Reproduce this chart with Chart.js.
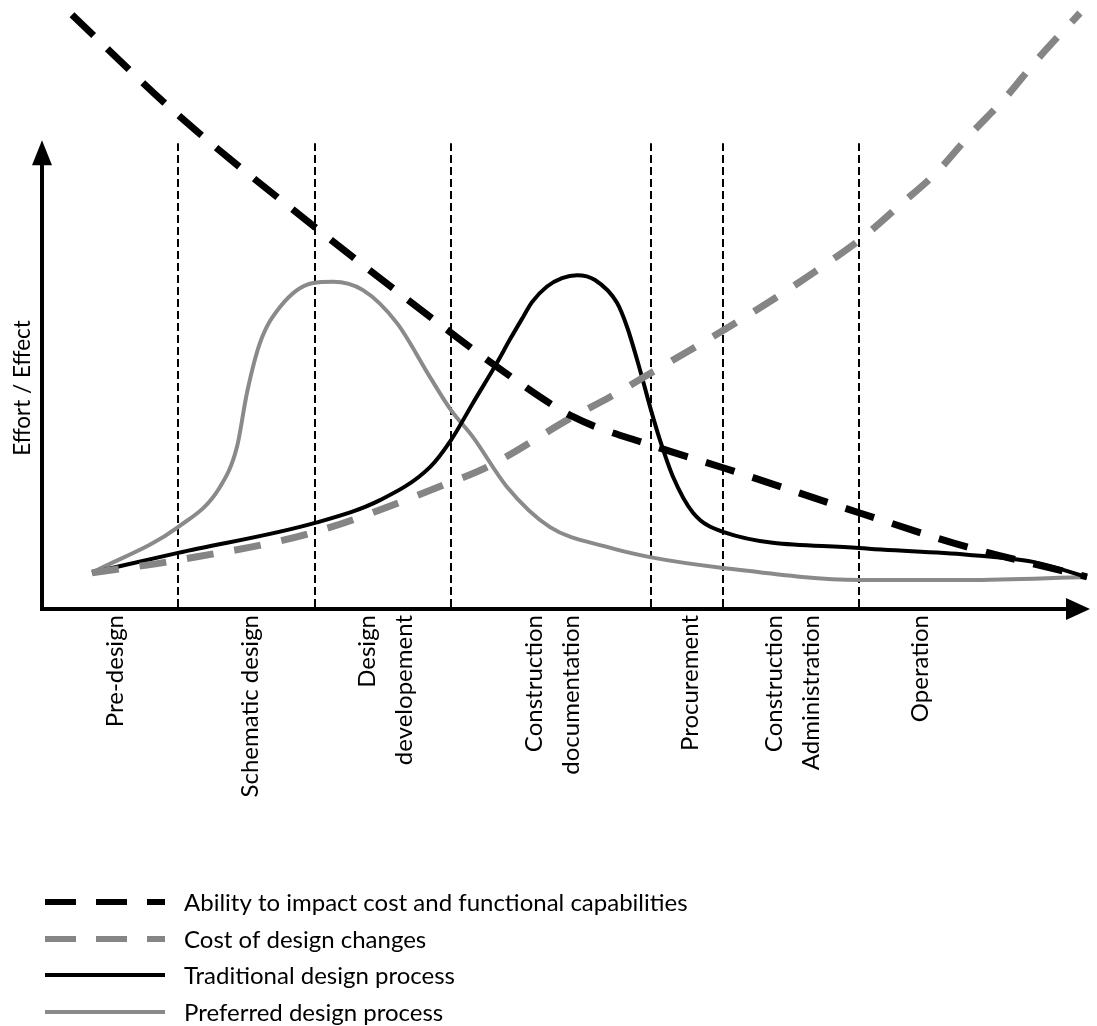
<!DOCTYPE html>
<html>
<head>
<meta charset="utf-8">
<script src="https://cdn.jsdelivr.net/npm/chart.js@4.4.0/dist/chart.umd.min.js"></script>
<style>
html,body{margin:0;padding:0;background:#fff;}
#wrap{width:1097px;height:1026px;position:relative;}
</style>
</head>
<body>
<div id="wrap"><canvas id="c"></canvas></div>
<script>
// ---- Data (x = project time, y = effort / effect, arbitrary units) ----
const phaseBoundaries = [13.6, 27.3, 40.9, 60.9, 68.1, 81.7];
const phaseTop = 77.3;
const phaseLabels = [
  ["Pre-design"],
  ["Schematic design"],
  ["Design", "developement"],
  ["Construction", "documentation"],
  ["Procurement"],
  ["Construction", "Administration"],
  ["Operation"]
];
const phaseLabelX = [7.3, 20.8, 34.4, 51.1, 64.8, 75.1, 87.8];

const abilityX = [3, 13.6, 27.3, 40.9, 45.5, 53.1, 60.8, 68.1, 81.7, 92.5, 104.5];
const abilityY = [98.7, 82, 63.3, 45.7, 40, 31.7, 27, 23.2, 15.7, 10, 5];

const costX = [5, 13.6, 27.3, 40.9, 44.5, 53.1, 56.8, 61.1, 65.3, 69.5, 73.8, 78, 82, 85.8, 89.5, 92.8, 96.3, 99.5, 103.8];
const costY = [5.7, 7.8, 12.5, 20.8, 23.3, 31.7, 35, 39.2, 43.3, 47.5, 52, 56.7, 61.5, 67, 72.5, 78.7, 84.8, 91.2, 99];

const tradX = [5, 13.6, 27.3, 33.8, 38.8, 40.9, 43.1, 45.5, 46.8, 48.1, 49.0, 50.5, 52.0, 53.5, 55.3, 57.5, 58.5, 59.8, 60.9, 61.8, 63.1, 65.1, 68.1, 81.7, 92.5, 99.1, 104.5];
const tradY = [5.7, 9, 14, 17.8, 23.3, 27.8, 34, 40.7, 44.6, 48.3, 50.8, 53.4, 54.8, 55.3, 54.5, 50.7, 46.7, 39.5, 32.8, 27.8, 21.7, 15.7, 12.5, 9.8, 8.7, 7.5, 5];

const prefX = [5, 13.6, 17.8, 19.5, 20.5, 21.8, 23.8, 27.1, 29.1, 32.1, 35.5, 38.8, 40.9, 43.1, 46.5, 50.8, 56.5, 60.8, 68.1, 81.7, 92.5, 104.5];
const prefY = [5.7, 13.3, 20, 26.7, 35.7, 44, 50, 54, 54.2, 52.8, 47.3, 38.3, 32.8, 28.3, 20, 13.3, 10, 8.3, 6.5, 4.5, 4.5, 5];

const seriesNames = [
  "Ability to impact cost and functional capabilities",
  "Cost of design changes",
  "Traditional design process",
  "Preferred design process"
];
const axisTitle = "Effort / Effect";

const pts = (xs, ys) => xs.map((x, i) => ({x: x, y: ys[i]}));

const FONT = "Lato, 'Open Sans', sans-serif";

const datasets = [
  {label: seriesNames[0], data: pts(abilityX, abilityY), borderColor: '#000000', borderWidth: 7, borderDash: [30, 19], inLegend: true},
  {label: seriesNames[1], data: pts(costX, costY), borderColor: '#858585', borderWidth: 7, borderDash: [27, 21], inLegend: true},
  {label: seriesNames[2], data: pts(tradX, tradY), borderColor: '#000000', borderWidth: 4, inLegend: true},
  {label: seriesNames[3], data: pts(prefX, prefY), borderColor: '#8a8a8a', borderWidth: 4, inLegend: true}
].map(d => Object.assign(d, {cubicInterpolationMode: 'monotone', pointRadius: 0, fill: false, clip: false, borderCapStyle: 'butt'}));

phaseBoundaries.forEach(b => {
  datasets.push({label: '', data: [{x: b, y: 0}, {x: b, y: phaseTop}], borderColor: '#000', borderWidth: 2,
    borderDash: [8, 4], pointRadius: 0, fill: false, clip: false, inLegend: false, tension: 0});
});

const overlay = {
  id: 'overlay',
  afterDraw(chart) {
    const ctx = chart.ctx;
    const xs = chart.scales.x, ys = chart.scales.y;
    const x0 = xs.getPixelForValue(0), y0 = ys.getPixelForValue(ys.min);
    const yTip = ys.getPixelForValue(77.8);
    const xTip = xs.getPixelForValue(104.8);
    ctx.save();
    ctx.strokeStyle = '#000'; ctx.fillStyle = '#000'; ctx.lineWidth = 4; ctx.setLineDash([]);
    // y axis
    ctx.beginPath(); ctx.moveTo(x0, y0 + 2); ctx.lineTo(x0, yTip + 20); ctx.stroke();
    ctx.beginPath(); ctx.moveTo(x0, yTip); ctx.lineTo(x0 - 10, yTip + 25); ctx.lineTo(x0 + 10, yTip + 25); ctx.closePath(); ctx.fill();
    // x axis
    ctx.beginPath(); ctx.moveTo(x0 - 2, y0); ctx.lineTo(xTip - 20, y0); ctx.stroke();
    ctx.beginPath(); ctx.moveTo(xTip, y0); ctx.lineTo(xTip - 24, y0 - 11); ctx.lineTo(xTip - 24, y0 + 11); ctx.closePath(); ctx.fill();

    // y axis title
    ctx.font = '22.5px ' + FONT; ctx.textAlign = 'center'; ctx.textBaseline = 'middle';
    ctx.save(); ctx.translate(23, 388); ctx.rotate(-Math.PI / 2); ctx.fillText(axisTitle, 0, 0); ctx.restore();

    // phase labels (rotated)
    ctx.font = '24px ' + FONT; ctx.textAlign = 'right'; ctx.textBaseline = 'middle';
    phaseLabels.forEach((lines, i) => {
      const cx = xs.getPixelForValue(phaseLabelX[i]);
      const n = lines.length, gap = 37;
      lines.forEach((t, j) => {
        const px = cx + (j - (n - 1) / 2) * gap;
        ctx.save(); ctx.translate(px, y0 + 6); ctx.rotate(-Math.PI / 2); ctx.fillText(t, 0, 0); ctx.restore();
      });
    });

    // legend
    const rows = [902, 939, 975, 1012];
    ctx.font = '24px ' + FONT; ctx.textAlign = 'left'; ctx.textBaseline = 'middle';
    chart.data.datasets.filter(d => d.inLegend).forEach((d, i) => {
      const y = rows[i];
      ctx.save();
      ctx.strokeStyle = d.borderColor; ctx.lineWidth = d.borderDash ? 6 : 4;
      ctx.setLineDash(d.borderDash ? [31, 20] : []); ctx.lineCap = 'butt';
      ctx.beginPath(); ctx.moveTo(45, y); ctx.lineTo(165, y); ctx.stroke();
      ctx.restore();
      ctx.fillStyle = '#000';
      ctx.fillText(d.label, 184, y + 1);
    });
    ctx.restore();
  }
};

new Chart(document.getElementById('c'), {
  type: 'line',
  data: {datasets: datasets},
  options: {
    responsive: true, maintainAspectRatio: false, animation: false,
    layout: {padding: {left: 42, right: 5, top: 7, bottom: 417}},
    plugins: {legend: {display: false}, tooltip: {enabled: false}},
    scales: {
      x: {type: 'linear', min: 0, max: 105, display: false},
      y: {type: 'linear', min: -0.35, max: 100, display: false}
    }
  },
  plugins: [overlay]
});
</script>
</body>
</html>
